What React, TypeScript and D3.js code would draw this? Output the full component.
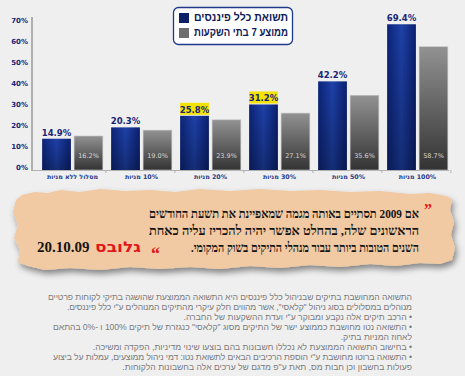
import React from "react";
import * as d3 from "d3";

const categories = ["מסלול ללא מניות", "10% מניות", "20% מניות", "30% מניות", "50% מניות", "100% מניות"];
const clalValues = [14.9, 20.3, 25.8, 31.2, 42.2, 69.4];
const avgValues = [16.2, 19.0, 23.9, 27.1, 35.6, 58.7];
const highlighted = [false, false, true, true, false, false];
const yTicks = [0, 10, 20, 30, 40, 50, 60, 70];
const legendLabels = ["תשואת כלל פיננסים", "ממוצע 7 בתי השקעות"];
const quoteLines = [
  "אם 2009 תסתיים באותה מגמה שמאפיינת את תשעת החודשים",
  "הראשונים שלה, בהחלט אפשר יהיה להכריז עליה כאחת",
  "השנים הטובות ביותר עבור מנהלי התיקים בשוק המקומי.",
];
const quoteWidths = [270, 270, 228];
const quoteSource = "גלובס";
const quoteDate = "20.10.09";
const footerLines = [
  "התשואה המחושבת בתיקים שבניהול כלל פיננסים היא התשואה הממוצעת שהושגה בתיקי לקוחות פרטיים",
  "מנוהלים במסלולים בסוג ניהול \"קלאסי\", אשר מהווים חלק עיקרי מהתיקים המנוהלים ע\"י כלל פיננסים.",
  "• הרכב תיקים אלה נקבע ומבוקר ע\"י ועדת ההשקעות של החברה.",
  "• התשואה נטו מחושבת כממוצע ישר של התיקים מסוג \"קלאסי\" כנגזרת של תיקים 100% ו -0% בהתאם",
  "לאחוז המניות בתיק.",
  "• בחישוב התשואה הממוצעת לא נכללו חשבונות בהם בוצעו שינוי מדיניות, הפקדה ומשיכה.",
  "• התשואה ברוטו מחושבת ע\"י הוספת הרכיבים הבאים לתשואת נטו: דמי ניהול ממוצעים, עמלות על ביצוע",
  "פעולות בחשבון וכן חבות מס, תאת ע\"פ מדגם של ערכים אלה בחשבונות הלקוחות.",
];
const footerJustify = [364, 345, 0, 359, 0, 0, 359, 0];

const paperPts: [number, number][] = [
  [16, 200], [22, 195], [35, 192], [48, 193], [60, 190], [80, 192], [100, 189], [125, 191], [150, 190],
  [175, 192], [200, 189], [230, 191], [260, 189], [290, 191], [320, 190], [350, 192], [380, 191],
  [410, 194], [430, 193], [446, 196], [452, 199], [450, 210], [454, 222], [451, 235], [455, 248],
  [452, 260], [440, 264], [420, 263], [395, 266], [370, 264], [340, 267], [310, 265], [280, 268],
  [250, 266], [220, 269], [190, 267], [160, 269], [130, 267], [100, 270], [70, 268], [45, 270],
  [28, 266], [18, 262], [20, 250], [14, 238], [18, 225], [13, 212],
];

export default function App() {
  const W = 465, H = 376;
  const x = d3.scaleBand<string>().domain(categories).range([38, 452]).paddingInner(0.12).paddingOuter(0.06);
  const xi = d3.scaleBand<string>().domain(["a", "b"]).range([0, x.bandwidth()]).paddingInner(0.1);
  const y = d3.scaleLinear().domain([0, 70]).range([170, 23]);
  const navy = "#17267a";
  const paperPath = d3.line()(paperPts) + "Z";
  const fontSans = "'DejaVu Sans', sans-serif";

  return (
    <svg width={W} height={H} style={{ position: "absolute", left: 0, top: 0, display: "block" }}>
      <defs>
        <linearGradient id="gBlue" x1="0" x2="1" y1="0" y2="0">
          <stop offset="0" stopColor="#0c2478" />
          <stop offset="0.5" stopColor="#1e41a8" />
          <stop offset="1" stopColor="#0b2070" />
        </linearGradient>
        <linearGradient id="gBlueV" x1="0" x2="0" y1="0" y2="1">
          <stop offset="0" stopColor="#000" stopOpacity="0" />
          <stop offset="1" stopColor="#000" stopOpacity="0.3" />
        </linearGradient>
        <linearGradient id="gGray" x1="0" x2="0" y1="0" y2="1">
          <stop offset="0" stopColor="#929292" />
          <stop offset="1" stopColor="#333333" />
        </linearGradient>
        <filter id="shadow" x="-5%" y="-10%" width="115%" height="140%">
          <feDropShadow dx="2" dy="4" stdDeviation="3" floodColor="#000" floodOpacity="0.45" />
        </filter>
      </defs>
      <rect x={0} y={0} width={W} height={H} fill="#efefef" />

      {/* axis */}
      <line x1={32} x2={32} y1={17} y2={171} stroke="#9a9a9a" strokeWidth={1.5} />
      <line x1={32} x2={449} y1={170.5} y2={170.5} stroke="#b0b0b0" strokeWidth={1.2} />
      {yTicks.map((t) => (
        <text key={t} x={28} y={y(t) - 2} fontSize={7} fontWeight="bold" fontFamily={fontSans}
          fill={navy} textAnchor="end" dominantBaseline="middle">{t}%</text>
      ))}
      {categories.map((c) => (
        <line key={c} x1={(x(c) as number) + x.bandwidth() + 3} x2={(x(c) as number) + x.bandwidth() + 3}
          y1={170} y2={173} stroke="#b0b0b0" />
      ))}

      {/* bars */}
      {categories.map((c, i) => {
        const gx = x(c) as number;
        const bx = gx + (xi("a") as number);
        const gx2 = gx + (xi("b") as number);
        const bw = xi.bandwidth();
        const cx = gx + x.bandwidth() / 2;
        return (
          <g key={c}>
            <rect x={bx} y={y(clalValues[i])} width={bw} height={y(0) - y(clalValues[i])} fill="url(#gBlue)" />
            <rect x={bx} y={y(clalValues[i])} width={bw} height={y(0) - y(clalValues[i])} fill="url(#gBlueV)" />
            <rect x={gx2} y={y(avgValues[i])} width={bw} height={y(0) - y(avgValues[i])} fill="url(#gGray)"
              stroke="#c8c8c8" strokeWidth={0.6} />
            {highlighted[i] && (
              <rect x={bx} y={y(clalValues[i]) - 13} width={bw} height={12} fill="#f4e300" />
            )}
            <text x={bx + bw / 2} y={y(clalValues[i]) - 3} fontSize={8.5} fontWeight="bold" fontFamily={fontSans}
              fill={navy} textAnchor="middle">{clalValues[i].toFixed(1)}%</text>
            <text x={gx2 + bw / 2} y={158} fontSize={6.5} fontFamily={fontSans} fill="#d6d6d6"
              textAnchor="middle">{avgValues[i].toFixed(1)}%</text>
            <text x={cx} y={179} fontSize={6.3} fontWeight="bold" fontFamily={fontSans} fill="#1f3a8a"
              textAnchor="middle" direction="rtl">{c}</text>
          </g>
        );
      })}

      {/* legend */}
      <rect x={173.5} y={7.5} width={119} height={37} rx={5} fill="#ffffff" stroke="#1f3a8a" strokeWidth={1.3} />
      <rect x={179} y={13} width={10} height={10} fill="#0d1f66" />
      <rect x={179} y={28} width={10} height={10} fill="#6e6e6e" />
      {legendLabels.map((l, i) => (
        <text key={l} x={288} y={18.5 + i * 15} fontSize={11} fontWeight="bold"
          fontFamily="'Liberation Sans', Arial, sans-serif" fill="#0d1a5a" direction="rtl"
          textAnchor="start" dominantBaseline="middle" textLength={94}
          lengthAdjust="spacingAndGlyphs">{l}</text>
      ))}

      {/* paper quote */}
      <path d={paperPath} fill="#f1c9a2" filter="url(#shadow)" />
      <text x={424} y={215} fontSize={16} fontWeight="bold" fontFamily="'Liberation Serif', serif"
        fill="#e0161b">”</text>
      {quoteLines.map((l, i) => (
        <text key={i} x={419} y={218 + i * 17} fontSize={13.5} fontWeight="bold"
          fontFamily="'Liberation Serif', serif" fill="#141414" direction="rtl" textAnchor="start"
          textLength={quoteWidths[i]} lengthAdjust="spacingAndGlyphs">{l}</text>
      ))}
      <text x={151} y={260} fontSize={18} fontWeight="bold" fontFamily="'Liberation Serif', serif"
        fill="#e0161b">“</text>
      <text x={141} y={252} fontSize={15} fontWeight="bold" fontFamily="'DejaVu Sans', sans-serif"
        fill="#e0161b" direction="rtl" textAnchor="start" textLength={46}
        lengthAdjust="spacingAndGlyphs">{quoteSource}</text>
      <text x={37} y={252} fontSize={15} fontWeight="bold" fontFamily="'Liberation Serif', serif"
        fill="#141414">{quoteDate}</text>

      {/* footer */}
      {footerLines.map((l, i) => (
        <text key={i} x={412} y={300 + i * 10} fontSize={8.6} fontFamily="'Liberation Sans', Arial, sans-serif"
          fill="#7b7b7b" direction="rtl" textAnchor="start"
          textLength={footerJustify[i] || undefined} lengthAdjust="spacing">{l}</text>
      ))}
    </svg>
  );
}
